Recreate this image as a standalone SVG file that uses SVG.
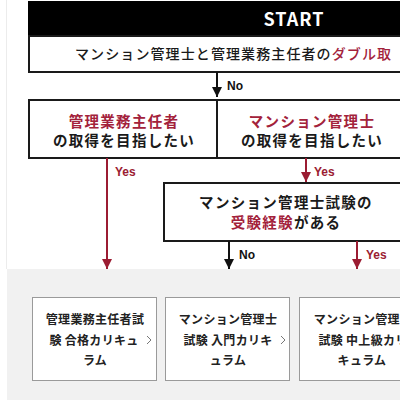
<svg xmlns="http://www.w3.org/2000/svg" width="400" height="400" viewBox="0 0 400 400">
<style>
text{font-family:"Noto Sans CJK JP","Noto Sans",sans-serif;}
.q{font-size:14.5px;font-weight:700;letter-spacing:1.3px;fill:#1a1a1a;text-anchor:middle;}
.q0{font-size:14px;font-weight:500;letter-spacing:1.1px;}
.r{fill:#a3223b;}
.box{fill:#fff;stroke:#1a1a1a;stroke-width:2;}
.card{fill:#fff;stroke:#9a9a9a;stroke-width:1;}
.ct{font-size:12px;font-weight:700;fill:#222;text-anchor:middle;letter-spacing:0.3px;}
.lbl{font-family:"Liberation Sans","DejaVu Sans",sans-serif;font-size:12px;font-weight:700;}
.lk{fill:#111;}
.lr{fill:#9b1c32;}
.ak{stroke:#111;stroke-width:2;fill:none;}
.ar{stroke:#9b1c32;stroke-width:2;fill:none;}
.chev{stroke:#777;stroke-width:1;fill:none;}
</style>
<defs>
<marker id="mk" viewBox="0 0 10 10" refX="10" refY="5" markerWidth="5" markerHeight="5" orient="auto" markerUnits="strokeWidth"><path d="M0,0 L10,5 L0,10 z" fill="#111"/></marker>
<marker id="mr" viewBox="0 0 10 10" refX="10" refY="5" markerWidth="5" markerHeight="5" orient="auto" markerUnits="strokeWidth"><path d="M0,0 L10,5 L0,10 z" fill="#9b1c32"/></marker>
</defs>
<rect x="0" y="0" width="400" height="400" fill="#fff"/>
<line x1="6.5" y1="0" x2="6.5" y2="269" stroke="#ececec" stroke-width="1"/>
<rect x="7" y="269" width="393" height="131" fill="#f1f1f1"/>

<g id="start">
<rect x="28" y="1" width="540" height="35" fill="#000"/>
<text x="294" y="26" font-family="Liberation Sans,DejaVu Sans,sans-serif" font-size="18" font-weight="700" fill="#fff" text-anchor="middle" letter-spacing="1">START</text>
</g>
<g id="q1">
<rect class="box" x="29" y="36" width="540" height="36"/>
<text class="q q0" x="75" y="59" style="text-anchor:start">マンション管理士と管理業務主任者の<tspan class="r">ダブル取</tspan></text>
</g>
<g id="q2a">
<rect class="box" x="29" y="100" width="188" height="58"/>
<text class="q" x="124" y="127"><tspan class="r">管理業務主任者</tspan></text>
<text class="q" x="124" y="146">の取得を目指したい</text>
</g>
<g id="q2b">
<rect class="box" x="217" y="100" width="190" height="58"/>
<text class="q" x="312" y="127"><tspan class="r">マンション管理士</tspan></text>
<text class="q" x="312" y="146">の取得を目指したい</text>
</g>
<g id="q3">
<rect class="box" x="164" y="183" width="242" height="58"/>
<text class="q" x="286" y="208">マンション管理士試験の</text>
<text class="q" x="286" y="228"><tspan class="r">受験経験</tspan>がある</text>
</g>

<g id="connectors">
<line class="ak" x1="217" y1="72" x2="217" y2="97" marker-end="url(#mk)"/>
<text class="lbl lk" x="227" y="90">No</text>
<line class="ar" x1="107" y1="158" x2="107" y2="269" marker-end="url(#mr)"/>
<text class="lbl lr" x="115" y="176">Yes</text>
<line class="ar" x1="306" y1="158" x2="306" y2="182" marker-end="url(#mr)"/>
<text class="lbl lr" x="314" y="176">Yes</text>
<line class="ak" x1="229" y1="241" x2="229" y2="269" marker-end="url(#mk)"/>
<text class="lbl lk" x="239" y="259">No</text>
<line class="ar" x1="357" y1="241" x2="357" y2="269" marker-end="url(#mr)"/>
<text class="lbl lr" x="366" y="259">Yes</text>
</g>

<g id="card1">
<rect class="card" x="32.5" y="297.5" width="124" height="83"/>
<text class="ct" x="95" y="324">管理業務主任者試</text>
<text class="ct" x="94" y="345">験 合格カリキュ</text>
<text class="ct" x="95" y="365">ラム</text>
<path class="chev" d="M147,336 L151,340 L147,344"/>
</g>
<g id="card2">
<rect class="card" x="165.5" y="297.5" width="124" height="83"/>
<text class="ct" x="228" y="324">マンション管理士</text>
<text class="ct" x="228" y="345">試験 入門カリキ</text>
<text class="ct" x="228" y="365">ュラム</text>
<path class="chev" d="M281,336 L285,340 L281,344"/>
</g>
<g id="card3">
<rect class="card" x="299.5" y="297.5" width="126" height="83"/>
<text class="ct" x="363" y="324">マンション管理士</text>
<text class="ct" x="363" y="345">試験 中上級カリ</text>
<text class="ct" x="362" y="365">キュラム</text>
</g>
</svg>
